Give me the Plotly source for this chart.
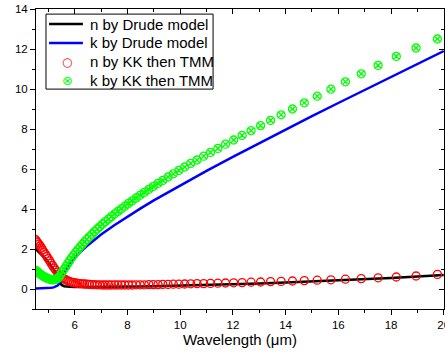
import plotly.graph_objects as go

# Drude-model optical constants (smooth curves)
drude_wl = [4.52, 4.6, 4.7, 4.8, 4.9, 5.0, 5.1, 5.2, 5.3, 5.35, 5.4, 5.45, 5.5, 5.6,
            5.7, 5.8, 6.0, 6.2, 6.5, 7.0, 7.5, 8.0, 8.5, 9.0, 10.0, 11.0, 12.0, 13.0,
            14.0, 15.0, 16.0, 17.0, 18.0, 19.0, 20.0]
drude_n = [2.0, 1.9, 1.78, 1.65, 1.5, 1.34, 1.17, 0.98, 0.76, 0.62, 0.45, 0.3, 0.2, 0.14,
           0.12, 0.11, 0.1, 0.1, 0.1, 0.11, 0.11, 0.12, 0.13, 0.14, 0.17, 0.2, 0.24, 0.28,
           0.33, 0.38, 0.43, 0.49, 0.55, 0.62, 0.7]
drude_k = [0.03, 0.03, 0.04, 0.04, 0.05, 0.05, 0.06, 0.08, 0.12, 0.17, 0.25, 0.35, 0.5, 0.8,
           1.03, 1.23, 1.55, 1.83, 2.19, 2.72, 3.19, 3.62, 4.03, 4.43, 5.18, 5.91, 6.61, 7.3,
           7.97, 8.64, 9.3, 9.96, 10.61, 11.25, 11.9]

# Values retrieved by Kramers-Kronig analysis followed by transfer-matrix fitting
kk_wl = [4.50, 4.55, 4.59, 4.64, 4.69, 4.74, 4.78, 4.83, 4.89, 4.94,
         4.99, 5.05, 5.10, 5.16, 5.22, 5.28, 5.34, 5.40, 5.47, 5.53,
         5.60, 5.67, 5.74, 5.81, 5.88, 5.96, 6.04, 6.12, 6.20, 6.29,
         6.37, 6.46, 6.55, 6.65, 6.75, 6.85, 6.95, 7.06, 7.16, 7.28,
         7.39, 7.52, 7.64, 7.77, 7.90, 8.04, 8.18, 8.33, 8.48, 8.64,
         8.81, 8.98, 9.16, 9.34, 9.54, 9.74, 9.95, 10.17, 10.40, 10.64,
         10.89, 11.15, 11.43, 11.72, 12.03, 12.35, 12.69, 13.05, 13.43, 13.83,
         14.26, 14.71, 15.20, 15.72, 16.27, 16.87, 17.51, 18.20, 18.95, 19.76]
kk_n = [2.48, 2.40, 2.32, 2.24, 2.15, 2.05, 1.95, 1.85, 1.74, 1.63,
        1.52, 1.41, 1.29, 1.17, 1.05, 0.94, 0.84, 0.74, 0.65, 0.57,
        0.50, 0.45, 0.41, 0.37, 0.34, 0.32, 0.30, 0.28, 0.27, 0.26,
        0.25, 0.24, 0.23, 0.22, 0.22, 0.21, 0.21, 0.20, 0.20, 0.20,
        0.20, 0.20, 0.20, 0.20, 0.20, 0.20, 0.20, 0.21, 0.21, 0.21,
        0.22, 0.22, 0.22, 0.23, 0.23, 0.24, 0.24, 0.25, 0.26, 0.27,
        0.27, 0.28, 0.29, 0.30, 0.31, 0.32, 0.34, 0.35, 0.37, 0.38,
        0.40, 0.42, 0.44, 0.46, 0.49, 0.52, 0.56, 0.60, 0.65, 0.73]
kk_k = [0.95, 0.90, 0.85, 0.80, 0.75, 0.70, 0.66, 0.62, 0.58, 0.55,
        0.52, 0.49, 0.47, 0.46, 0.46, 0.48, 0.52, 0.60, 0.72, 0.86,
        1.00, 1.14, 1.28, 1.42, 1.56, 1.70, 1.84, 1.97, 2.10, 2.23,
        2.36, 2.48, 2.61, 2.74, 2.87, 3.00, 3.12, 3.25, 3.37, 3.50,
        3.62, 3.76, 3.88, 4.01, 4.14, 4.28, 4.41, 4.55, 4.69, 4.83,
        4.98, 5.13, 5.28, 5.43, 5.60, 5.76, 5.93, 6.10, 6.28, 6.45,
        6.64, 6.83, 7.03, 7.24, 7.45, 7.68, 7.92, 8.17, 8.43, 8.71,
        9.00, 9.31, 9.64, 9.99, 10.36, 10.76, 11.18, 11.63, 12.05, 12.50]

x_ticks = [6, 8, 10, 12, 14, 16, 18, 20]
y_ticks = [0, 2, 4, 6, 8, 10, 12, 14]

series_names = ["n by Drude model", "k by Drude model",
                "n by KK then TMM", "k by KK then TMM"]

FONT = "Arial, Liberation Sans, sans-serif"
BLACK, BLUE, RED, GREEN = "black", "#0000ff", "#ff0000", "#00ff00"

fig = go.Figure()
fig.add_trace(go.Scatter(x=drude_wl, y=drude_n, mode="lines", name=series_names[0],
                         line=dict(color=BLACK, width=2.5)))
fig.add_trace(go.Scatter(x=drude_wl, y=drude_k, mode="lines", name=series_names[1],
                         line=dict(color=BLUE, width=2.5)))
fig.add_trace(go.Scatter(x=kk_wl, y=kk_n, mode="markers", name=series_names[2],
                         marker=dict(symbol="circle-open", size=8, color=RED,
                                     line=dict(width=1.3, color=RED))))
fig.add_trace(go.Scatter(x=kk_wl, y=kk_k, mode="markers", name=series_names[3],
                         marker=dict(symbol="circle-x-open", size=8, color=GREEN,
                                     line=dict(width=1.3, color=GREEN))))
# carrier trace for the mirrored top/right axes
fig.add_trace(go.Scatter(x=[None], y=[None], xaxis="x2", yaxis="y2", showlegend=False,
                         hoverinfo="skip"))

# Legend box drawn in plot-area (paper) coordinates
box = dict(x0=0.0245, x1=0.434, y0=0.733, y1=0.983)
row_y = [0.950, 0.887, 0.824, 0.763]
sample_x0, sample_x1, sample_xc, text_x = 0.032, 0.115, 0.076, 0.127

shapes = [dict(type="rect", xref="paper", yref="paper", layer="above",
               fillcolor="white", line=dict(color="black", width=1), **box)]
for y, color in zip(row_y[:2], [BLACK, BLUE]):
    shapes.append(dict(type="line", xref="paper", yref="paper", layer="above",
                       x0=sample_x0, x1=sample_x1, y0=y, y1=y,
                       line=dict(color=color, width=2.5)))

annotations = []
for y, name in zip(row_y, series_names):
    annotations.append(dict(xref="paper", yref="paper", x=text_x, y=y, text=name,
                            showarrow=False, xanchor="left", yanchor="middle",
                            font=dict(family=FONT, size=15, color="black")))
for y, glyph, color, size in zip(row_y[2:], ["○", "⊗"], [RED, GREEN], [12, 13]):
    annotations.append(dict(xref="paper", yref="paper", x=sample_xc, y=y, text=glyph,
                            showarrow=False, xanchor="center", yanchor="middle",
                            font=dict(family="DejaVu Sans", size=size, color=color)))

axis_common = dict(showline=True, linecolor="black", linewidth=1, showgrid=False,
                   zeroline=False, ticks="outside", ticklen=5, tickwidth=1,
                   automargin=False,
                   tickcolor="black", tickfont=dict(family=FONT, size=11.5, color="black"))
mirror_common = dict(showline=True, linecolor="black", linewidth=1, showgrid=False,
                     zeroline=False, showticklabels=False, ticks="inside", ticklen=5,
                     tickcolor="black", automargin=False,
                     minor=dict(dtick=1, tick0=0, ticks="inside", ticklen=3,
                                tickcolor="black"))

X_RANGE = [4.53, 20.01]
Y_RANGE = [-1, 14]

fig.update_layout(
    width=445, height=352,
    margin=dict(l=36, r=1, t=9, b=43),
    paper_bgcolor="white", plot_bgcolor="white",
    font=dict(family=FONT, color="black"),
    showlegend=False,
    shapes=shapes,
    annotations=annotations,
    xaxis=dict(range=X_RANGE, tickvals=x_ticks, ticktext=[str(v) for v in x_ticks],
               ticklabeloverflow="allow",
               minor=dict(dtick=1, tick0=0, ticks="outside", ticklen=3, tickcolor="black"),
               title=dict(text="Wavelength (μm)", font=dict(family=FONT, size=15),
                          standoff=4),
               **axis_common),
    yaxis=dict(range=Y_RANGE, tickvals=y_ticks, ticktext=[str(v) for v in y_ticks],
               minor=dict(dtick=1, tick0=0, ticks="outside", ticklen=3, tickcolor="black"),
               **axis_common),
    xaxis2=dict(overlaying="x", side="top", anchor="y", range=X_RANGE,
                tickvals=x_ticks, **mirror_common),
    yaxis2=dict(overlaying="y", side="right", anchor="x", range=Y_RANGE,
                tickvals=y_ticks, **mirror_common),
)

fig.write_html("out.html")
